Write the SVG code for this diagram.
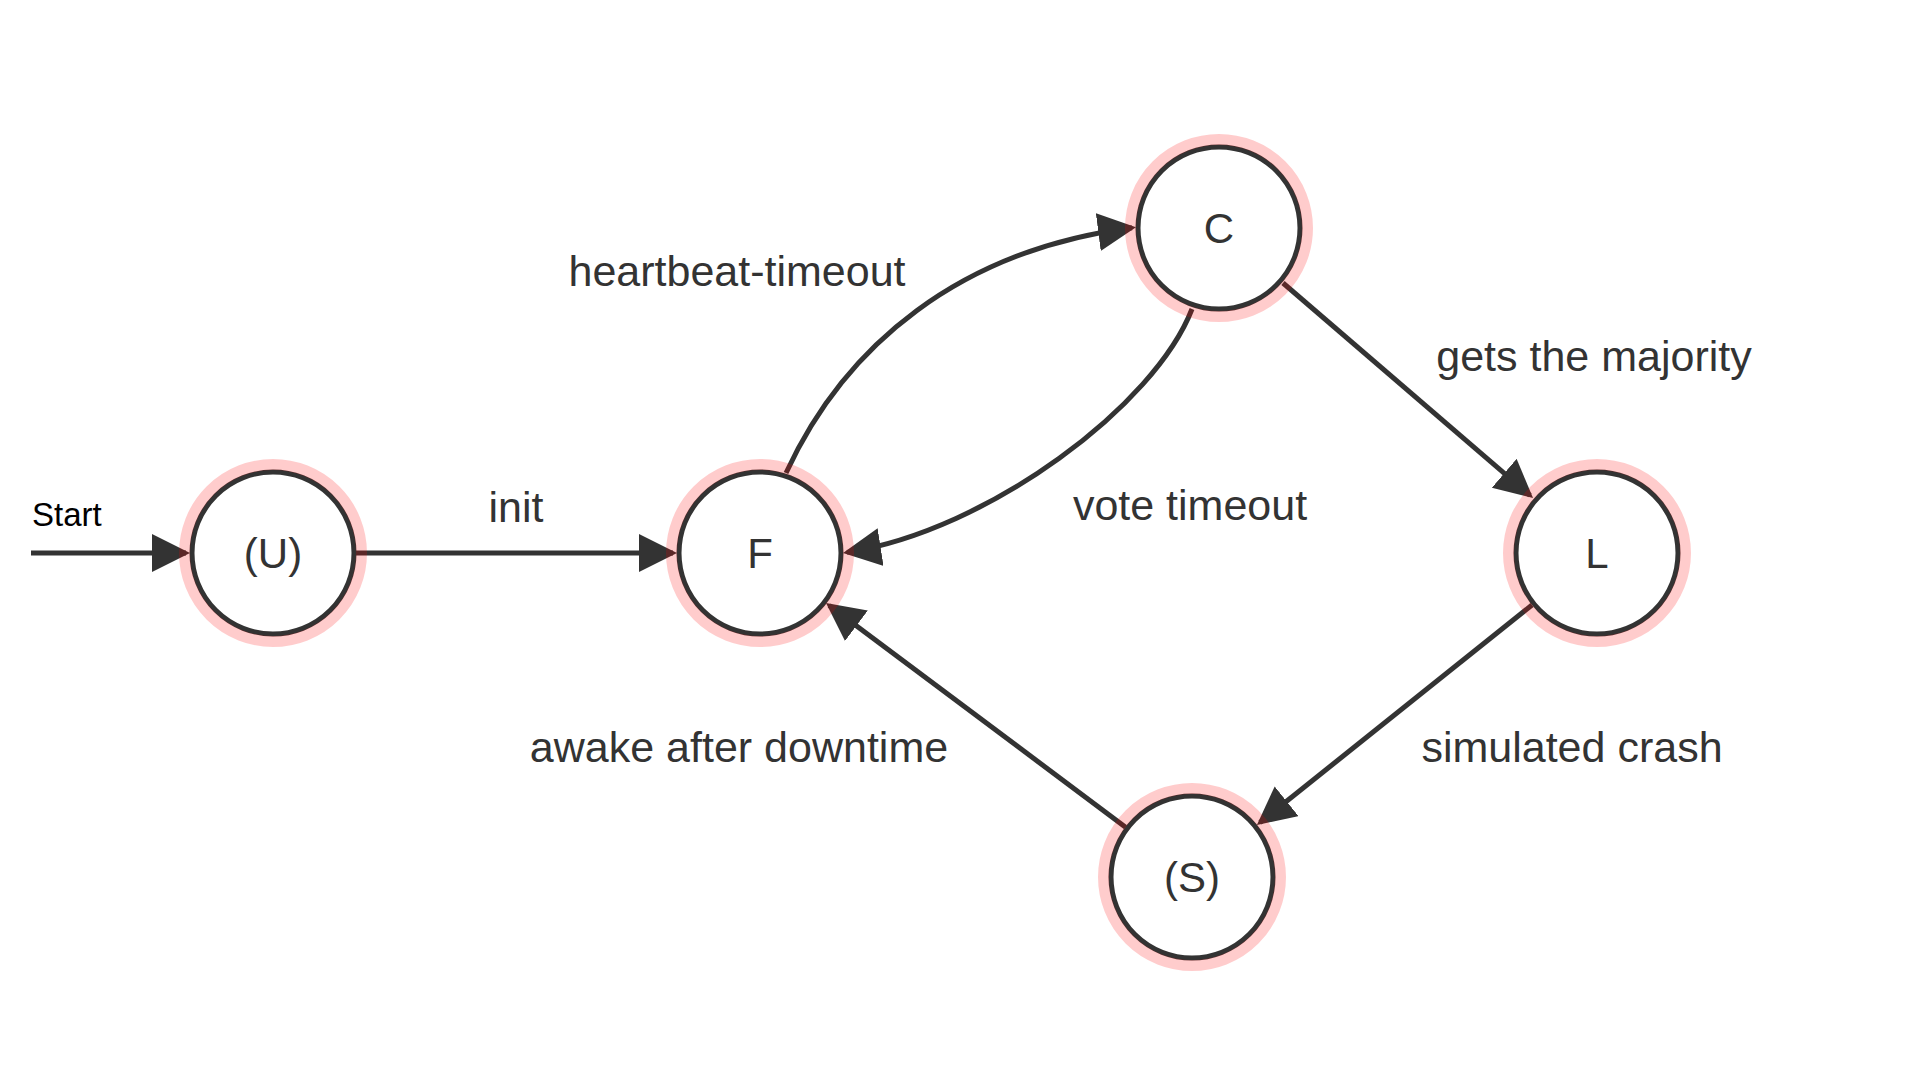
<svg xmlns="http://www.w3.org/2000/svg" width="1920" height="1080" viewBox="0 0 1920 1080">
<style>
.edge{fill:none;stroke:#333333;stroke-width:5;}
.ring{fill:none;stroke:#ff0000;stroke-opacity:0.2;stroke-width:11;}
.node{fill:#ffffff;stroke:#333333;stroke-width:5;}
.nlabel{font-family:"Liberation Sans",Arial,sans-serif;font-size:42px;fill:#333333;text-anchor:middle;}
.elabel{font-family:"Liberation Sans",Arial,sans-serif;font-size:43px;fill:#333333;text-anchor:middle;}
.start{font-family:"Liberation Sans",Arial,sans-serif;font-size:33px;fill:#000000;}
</style>
<defs>
<marker id="arrow" markerUnits="userSpaceOnUse" markerWidth="40" markerHeight="40" refX="34" refY="19" orient="auto">
<path d="M0,0 L38,19 L0,38 z" fill="#333333"/>
</marker>
</defs>
<rect width="1920" height="1080" fill="#ffffff"/>
<g id="connectors">
<path id="e-start" class="edge" d="M31,553 L186,553" marker-end="url(#arrow)"/>
<path id="e-init" class="edge" d="M354,553 L673,553" marker-end="url(#arrow)"/>
<path id="e-heartbeat" class="edge" d="M786,473 C845,345 960,250 1132,227.7" marker-end="url(#arrow)"/>
<path id="e-vote" class="edge" d="M1192,309 C1155,405 990,530 847,552.4" marker-end="url(#arrow)"/>
<path id="e-majority" class="edge" d="M1283,283 L1530,495.4" marker-end="url(#arrow)"/>
<path id="e-crash" class="edge" d="M1532,605 L1260,822.5" marker-end="url(#arrow)"/>
<path id="e-awake" class="edge" d="M1125.6,827.2 L829.2,605.4" marker-end="url(#arrow)"/>
</g>
<g id="edge-labels">
<text class="start" x="32" y="526">Start</text>
<text class="elabel" x="516" y="522">init</text>
<text class="elabel" x="737" y="286">heartbeat-timeout</text>
<text class="elabel" x="1190" y="520">vote timeout</text>
<text class="elabel" x="1594" y="371">gets the majority</text>
<text class="elabel" x="1572" y="762">simulated crash</text>
<text class="elabel" x="739" y="762">awake after downtime</text>
</g>
<g id="node-U">
<circle class="node" cx="273" cy="553" r="81"/>
<circle class="ring" cx="273" cy="553" r="88.5"/>
<text class="nlabel" x="273" y="568">(U)</text>
</g>
<g id="node-F">
<circle class="node" cx="760" cy="553" r="81"/>
<circle class="ring" cx="760" cy="553" r="88.5"/>
<text class="nlabel" x="760" y="568">F</text>
</g>
<g id="node-C">
<circle class="node" cx="1219" cy="228" r="81"/>
<circle class="ring" cx="1219" cy="228" r="88.5"/>
<text class="nlabel" x="1219" y="243">C</text>
</g>
<g id="node-L">
<circle class="node" cx="1597" cy="553" r="81"/>
<circle class="ring" cx="1597" cy="553" r="88.5"/>
<text class="nlabel" x="1597" y="568">L</text>
</g>
<g id="node-S">
<circle class="node" cx="1192" cy="877" r="81"/>
<circle class="ring" cx="1192" cy="877" r="88.5"/>
<text class="nlabel" x="1192" y="892">(S)</text>
</g>
</svg>
